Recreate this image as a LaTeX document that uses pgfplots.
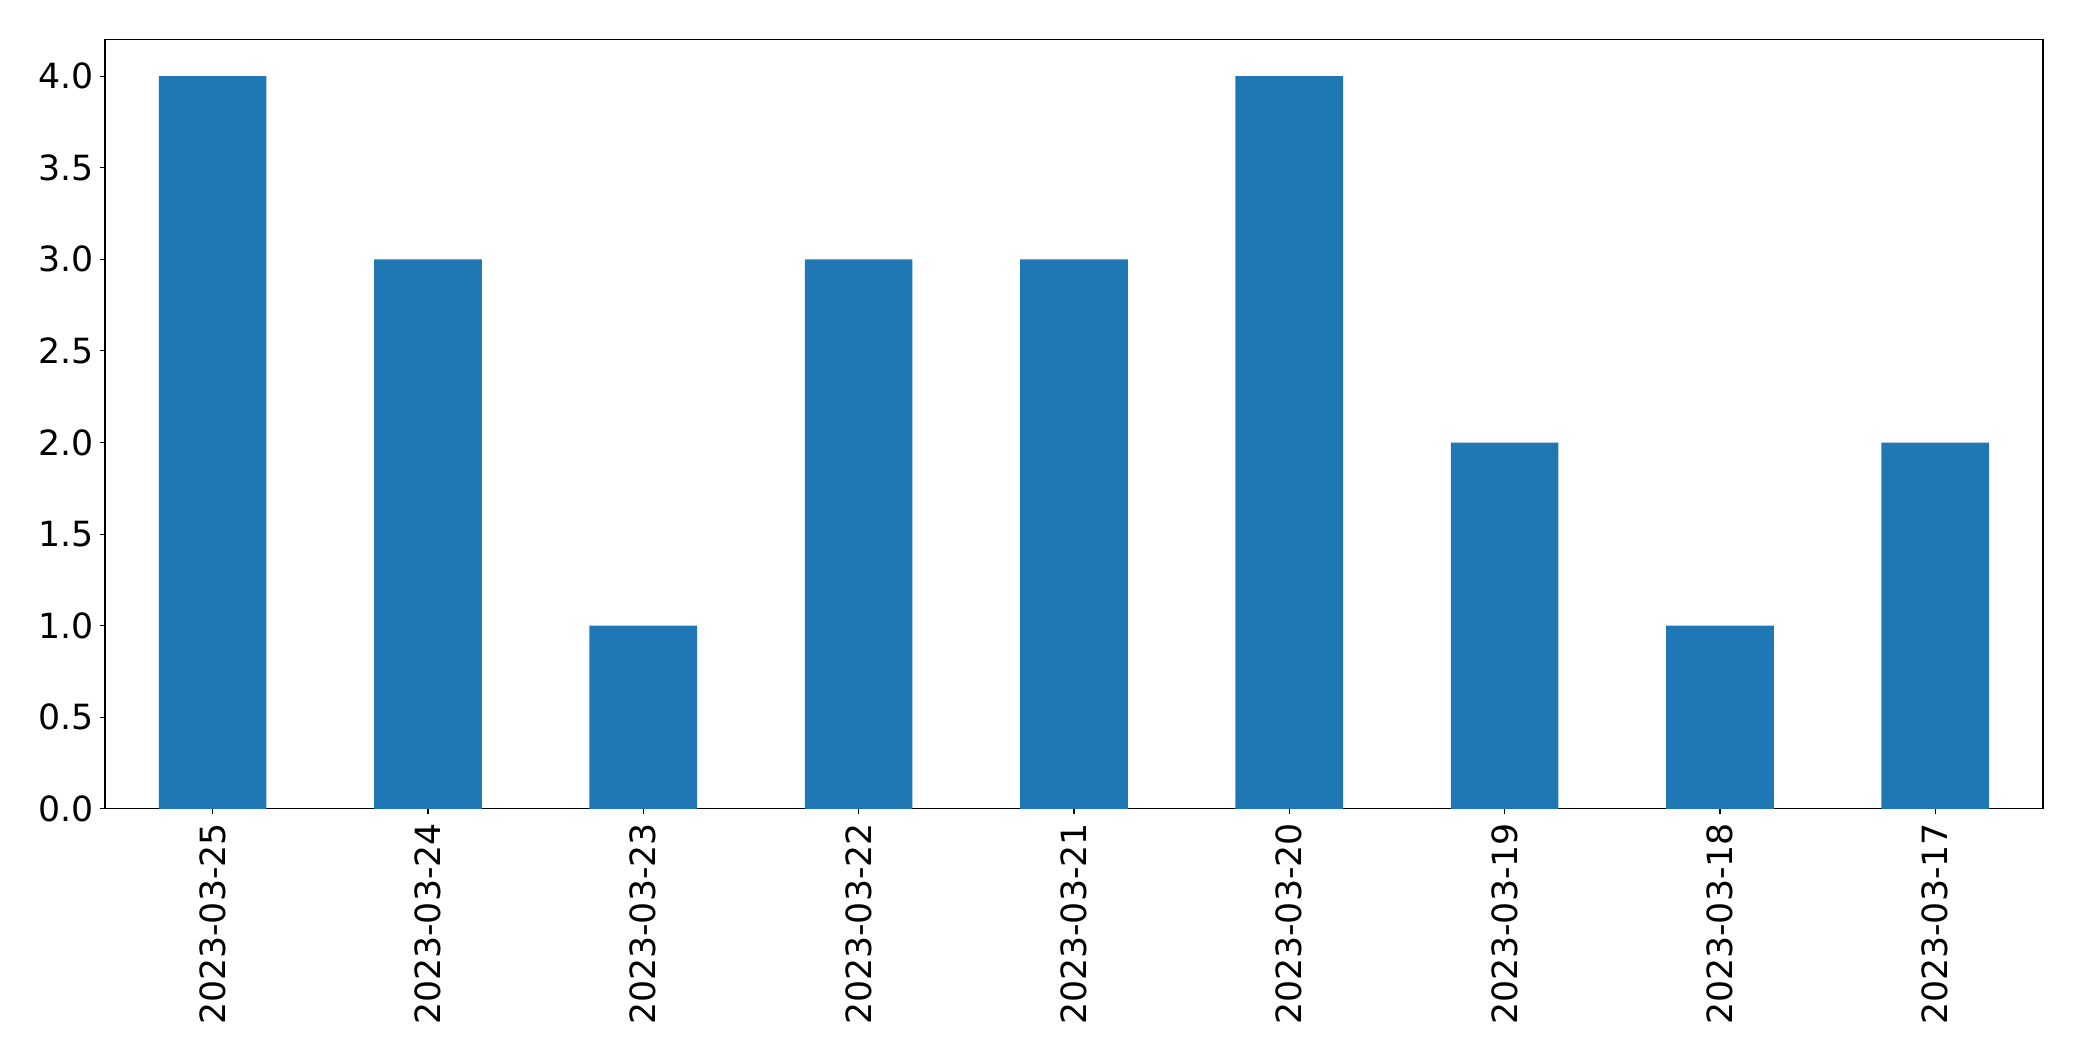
\documentclass[border=0pt]{standalone}
\usepackage{pgfplots}
\pgfplotsset{compat=1.18}
\usepackage{fontspec}
\setmainfont{DejaVu Sans}
\definecolor{mplblue}{RGB}{31,119,180}
\begin{document}
\begin{tikzpicture}
\begin{axis}[
  at={(0,0)}, anchor=south west,
  scale only axis,
  width=1395.4pt, height=554pt,
  xmin=-0.5, xmax=8.5, ymin=0, ymax=4.2,
  xtick={0,1,2,3,4,5,6,7,8},
  xticklabels={2023-03-25,2023-03-24,2023-03-23,2023-03-22,2023-03-21,2023-03-20,2023-03-19,2023-03-18,2023-03-17},
  ytick={0,0.5,1,1.5,2,2.5,3,3.5,4},
  yticklabel style={/pgf/number format/fixed,/pgf/number format/fixed zerofill,/pgf/number format/precision=1},
  /pgf/number format/assume math mode=true,
  tick label style={font=\fontsize{25}{29}\selectfont},
  xticklabel style={rotate=90, anchor=east, inner sep=0pt, xshift=-6.5pt},
  yticklabel style={anchor=east, inner sep=0pt, xshift=-4.6pt},
  tick align=outside,
  xtick pos=bottom, ytick pos=left,
  major tick length=3.5pt,
  every tick/.style={black, line width=0.8pt},
  axis line style={line width=0.8pt},
  minor tick num=0,
]
\addplot[ybar, bar width=0.5, fill=mplblue, draw=none, bar shift=0pt] coordinates {
(0,4) (1,3) (2,1) (3,3) (4,3) (5,4) (6,2) (7,1) (8,2)
};
\end{axis}
\pgfresetboundingbox
\path[use as bounding box] (-75.6pt,-181.4pt) rectangle (1423.4pt,582.4pt);
\end{tikzpicture}
\end{document}
